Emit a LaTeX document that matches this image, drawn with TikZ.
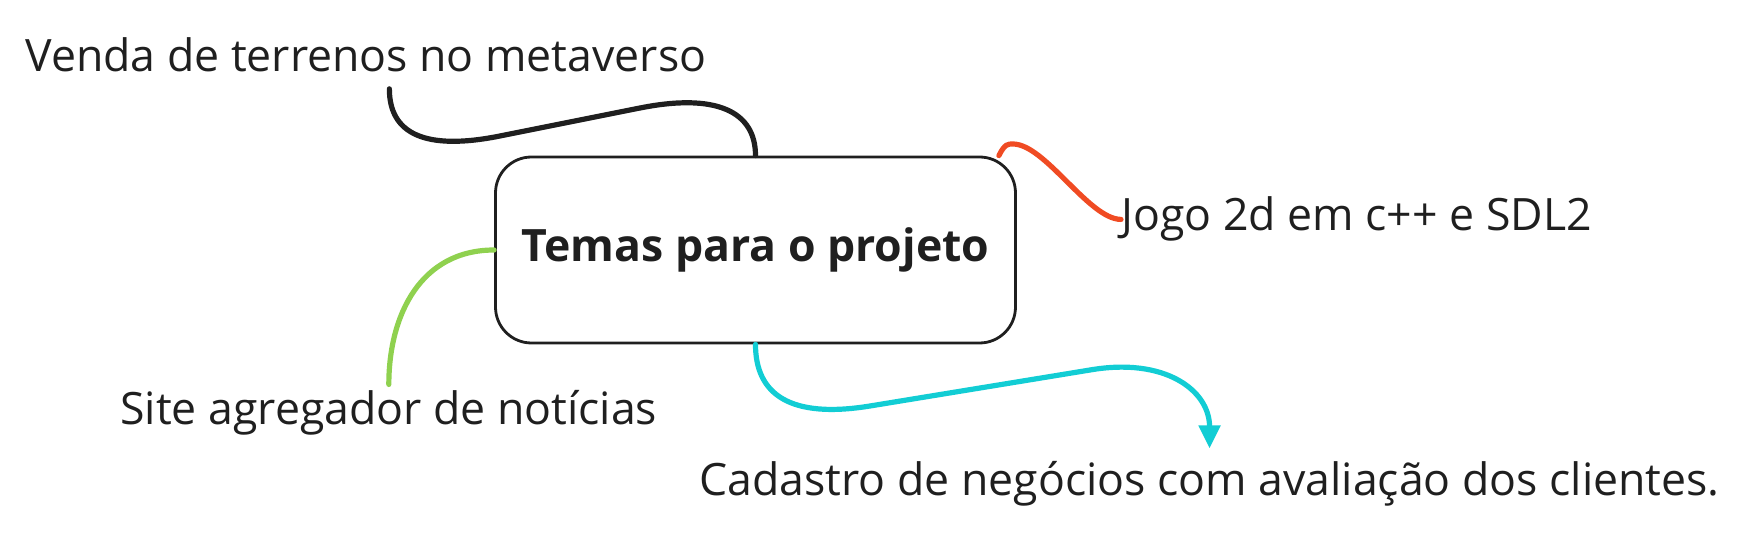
\documentclass[tikz,border=0pt]{standalone}
\usepackage{fontspec}
\setmainfont{Open Sans}
\usetikzlibrary{arrows.meta}
\definecolor{tinta}{HTML}{1F1F1F}
\definecolor{vermelho}{HTML}{F04B23}
\definecolor{verde}{HTML}{8FD14F}
\definecolor{ciano}{HTML}{12CDD4}
\tikzset{
  tema/.style={draw=tinta, line width=1.4pt, rounded corners=18pt, minimum width=260pt, minimum height=93pt, text=tinta, font=\fontsize{22.3}{26}\selectfont\bfseries},
  topico/.style={inner sep=0pt, anchor=base west, text=tinta, font=\fontsize{22.3}{26}\selectfont},
  ramo/.style={line width=2.6pt, line cap=round}
}
\begin{document}
\begin{tikzpicture}[x=0.5pt,y=-0.5pt]
\useasboundingbox (0,0) rectangle (1753,545);
\node[tema] (temas) at (755.5,250) {Temas para o projeto};
\node[topico] (venda) at (25,72) {Venda de terrenos no metaverso};
\node[topico] (jogo) at (1121,231) {Jogo 2d em c++ e SDL2};
\node[topico] (site) at (120,425) {Site agregador de notícias};
\node[topico] (cadastro) at (699,495) {Cadastro de negócios com avaliação dos clientes.};
\draw[ramo, tinta] ([xshift=11.75pt,yshift=-8pt]venda.south) .. controls +(0,45) and +(-75,15) .. (500,136)
  -- (640,108) .. controls +(75,-15) and +(0,-45) .. (temas.north);
\draw[ramo, vermelho] ([xshift=-9pt]temas.north east) .. controls +(6,-12) and +(-5,0) .. (1013,144)
  .. controls +(32,0) and +(-32,0) .. (jogo.west);
\draw[ramo, verde] (temas.west) .. controls +(-73,0) and +(0,-70) .. ([yshift=3pt]site.north);
\draw[ramo, ciano, -{Triangle[width=10.5pt,length=11.5pt]}] (temas.south) .. controls +(0,50) and +(-80,13) .. (870,406)
  -- (1090,370) .. controls +(75,-13) and +(0,-58) .. ([yshift=6pt]cadastro.north);
\end{tikzpicture}
\end{document}
